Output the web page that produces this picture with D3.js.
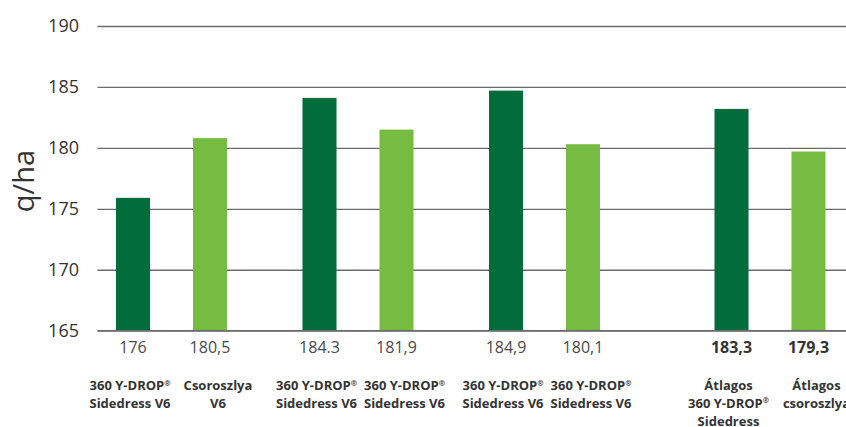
<!DOCTYPE html>
<html>
<head>
<meta charset="utf-8">
<script src="https://cdn.jsdelivr.net/npm/d3@7"></script>
<style>
  body { margin: 0; background: #fff; }
  svg { display: block; font-family: "Open Sans", sans-serif; }
</style>
</head>
<body>
<svg id="chart" width="846" height="427"></svg>
<script>
//data
const groups = ["g1", "g2", "g3", "avg"];
const barGroup = ["g1", "g1", "g2", "g2", "g3", "g3", "avg", "avg"];
const barSeries = ["ydrop", "cs", "ydrop", "cs", "ydrop", "cs", "ydrop", "cs"];
const values = [175.9, 180.8, 184.1, 181.5, 184.7, 180.3, 183.2, 179.7];
const valueLabels = ["176", "180,5", "184.3", "181,9", "184,9", "180,1", "183,3", "179,3"];
const categoryLabels = [
    ["360 Y-DROP®", "Sidedress V6"],
    ["Csoroszlya", "V6"],
    ["360 Y-DROP®", "Sidedress V6"],
    ["360 Y-DROP®", "Sidedress V6"],
    ["360 Y-DROP®", "Sidedress V6"],
    ["360 Y-DROP®", "Sidedress V6"],
    ["Átlagos", "360 Y-DROP®", "Sidedress"],
    ["Átlagos", "csoroszlya"]
];
const yTicks = [165, 170, 175, 180, 185, 190];
const yTitle = "q/ha";

const colors = { ydrop: "#036c3b", cs: "#76bc43" };
const labelShift = { ydrop: -3, cs: 8 }; //category labels sit a little off the bar centres
const svg = d3.select("#chart");
const plotLeft = 97.5, plotRight = 846;
const avgShift = 39; //extra gap before the average group

//scales
const y = d3.scaleLinear().domain([165, 190]).range([330.7, 26]);
const x0 = d3.scaleBand().domain(groups).range([78.25, 824.25]);
const x1 = d3.scaleBand().domain(["ydrop", "cs"])
    .range([(x0.bandwidth() - 111) / 2, (x0.bandwidth() + 111) / 2])
    .paddingInner(0.558).paddingOuter(0);
const barX = i => x0(barGroup[i]) + x1(barSeries[i]) + (barGroup[i] === "avg" ? avgShift : 0);
const barCenter = i => barX(i) + x1.bandwidth() / 2;

//y axis with gridlines
const yAxis = svg.append("g")
    .attr("transform", `translate(${plotLeft},0)`)
    .call(d3.axisLeft(y).tickValues(yTicks).tickSize(-(plotRight - plotLeft)).tickPadding(18.5));
yAxis.select(".domain").remove();
yAxis.selectAll(".tick line").attr("stroke", "#6b6b6b").attr("stroke-width", 1.3);
yAxis.selectAll(".tick text")
    .attr("fill", "#333")
    .style("font-size", "18px")
    .style("font-family", "'Open Sans', sans-serif");

//y title
svg.append("text")
    .attr("transform", `translate(34,181) rotate(-90)`)
    .attr("text-anchor", "middle")
    .attr("fill", "#333")
    .style("font-size", "29px")
    .text(yTitle);

//bars
svg.selectAll("rect.bar")
    .data(values)
    .join("rect")
    .attr("class", "bar")
    .attr("x", (d, i) => barX(i))
    .attr("y", d => y(d))
    .attr("width", x1.bandwidth())
    .attr("height", d => y(165) - y(d))
    .attr("fill", (d, i) => colors[barSeries[i]]);

//redraw baseline over bars
svg.append("line")
    .attr("x1", plotLeft).attr("x2", plotRight)
    .attr("y1", y(165)).attr("y2", y(165))
    .attr("stroke", "#6b6b6b").attr("stroke-width", 1.3);

//value labels under the axis
svg.selectAll("text.val")
    .data(valueLabels)
    .join("text")
    .attr("class", "val")
    .attr("x", (d, i) => barCenter(i))
    .attr("y", 353)
    .attr("text-anchor", "middle")
    .attr("fill", (d, i) => barGroup[i] === "avg" ? "#333" : "#4a4a4a")
    .style("font-size", "16px")
    .style("font-weight", (d, i) => barGroup[i] === "avg" ? 700 : 400)
    .text(d => d);

//category labels, one text per line so the ® superscript stays in the centred chunk
categoryLabels.forEach((lines, i) => {
    lines.forEach((line, j) => {
        const parts = line.split("®");
        const t = svg.append("text")
            .attr("x", barCenter(i) + labelShift[barSeries[i]])
            .attr("y", 390 + j * 17.8)
            .attr("text-anchor", "middle")
            .attr("fill", "#333")
            .style("font-size", "13px")
            .style("font-weight", 700);
        t.append("tspan").text(parts[0]);
        if (parts.length > 1) {
            t.append("tspan")
                .attr("dy", -4.5)
                .style("font-size", "7.5px")
                .text("®");
        }
    });
});
</script>
</body>
</html>
